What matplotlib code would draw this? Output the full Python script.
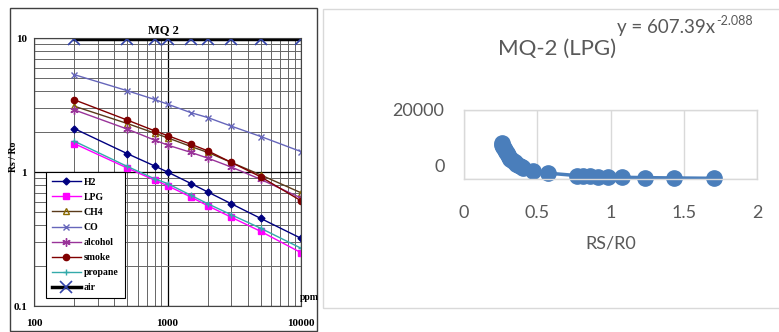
import matplotlib
matplotlib.use("Agg")
import matplotlib.pyplot as plt
from matplotlib.patches import Rectangle
from matplotlib.transforms import ScaledTranslation
import numpy as np

# ---------------- data: left (datasheet curves) ----------------
ppm = [200, 500, 800, 1000, 1500, 2000, 3000, 5000, 10000]
h2 = [2.11, 1.37, 1.11, 1.00, 0.82, 0.71, 0.58, 0.45, 0.32]
lpg = [1.63, 1.07, 0.87, 0.79, 0.65, 0.56, 0.46, 0.36, 0.25]
ch4 = [3.10, 2.30, 1.95, 1.80, 1.55, 1.40, 1.18, 0.95, 0.70]
co = [5.33, 4.04, 3.48, 3.21, 2.77, 2.55, 2.20, 1.84, 1.42]
alcohol = [2.91, 2.09, 1.73, 1.59, 1.40, 1.27, 1.09, 0.88, 0.64]
smoke = [3.46, 2.44, 2.03, 1.87, 1.61, 1.44, 1.18, 0.92, 0.61]
propane = [1.70, 1.10, 0.89, 0.82, 0.67, 0.58, 0.48, 0.38, 0.27]
air = [9.8, 9.8, 9.8, 9.8, 9.8, 9.8, 9.8, 9.8, 9.8]
left_xticks = [100, 1000, 10000]
left_xticklabels = ["100", "1000", "10000"]
left_yticks = [0.1, 1, 10]
left_yticklabels = ["0.1", "1", "10"]

# ---------------- data: right (Excel scatter) ----------------
rs_r0 = [0.257, 0.262, 0.268, 0.274, 0.280, 0.287, 0.294, 0.301, 0.309,
         0.317, 0.326, 0.336, 0.346, 0.358, 0.370, 0.383, 0.395, 0.405,
         0.473, 0.571, 0.769, 0.814, 0.860, 0.917, 0.985, 1.076, 1.236,
         1.434, 1.709]
lpg_ppm = [10400, 9900, 9400, 8900, 8400, 7900, 7400, 6900, 6400,
           5900, 5500, 5100, 4800, 4400, 4100, 3800, 3500, 3300,
           2300, 1700, 1000, 900, 800, 700, 600, 500, 400,
           300, 200]
right_xticks = [0, 0.5, 1, 1.5, 2]
right_xticklabels = ["0", "0.5", "1", "1.5", "2"]
right_yticks = [0, 20000]
right_yticklabels = ["0", "20000"]

W, H = 779, 332
fig = plt.figure(figsize=(W / 100, H / 100), dpi=100)

def px_rect(x0, y0, x1, y1):
    return [x0 / W, 1 - y1 / H, (x1 - x0) / W, (y1 - y0) / H]

# outer frames
fig.patches.append(Rectangle((10 / W, 1 - 331 / H), 307 / W, 323 / H,
                             transform=fig.transFigure, fill=False,
                             edgecolor="#404040", lw=1.0))
fig.patches.append(Rectangle((323 / W, 1 - 308 / H), 460 / W, 299 / H,
                             transform=fig.transFigure, fill=False,
                             edgecolor="#d9d9d9", lw=1.0))

# ---------------- left axes ----------------
serif = ["Liberation Serif", "DejaVu Serif"]
ax = fig.add_axes(px_rect(34, 38, 301, 306))
ax.set_xscale("log")
ax.set_yscale("log")
ax.set_xlim(100, 10000)
ax.set_ylim(0.1, 10)
ax.grid(True, which="major", color="black", lw=0.9)
ax.grid(True, which="minor", color="#666666", lw=0.7)
ax.tick_params(which="both", length=0)
ax.set_xticks(left_xticks)
ax.set_xticklabels(left_xticklabels, family=serif, fontsize=8, fontweight="bold")
ax.set_yticks(left_yticks)
ax.set_yticklabels(left_yticklabels, family=serif, fontsize=8, fontweight="bold")
ax.tick_params(axis="x", pad=9)
ax.tick_params(axis="y", pad=5)
for s in ax.spines.values():
    s.set_color("#444444")
    s.set_linewidth(0.8)

ax.plot(ppm, h2, color="#000080", marker="D", ms=3.5, lw=1.0, label="H2")
ax.plot(ppm, lpg, color="#ff00ff", marker="s", ms=4.5, lw=1.0, label="LPG")
ax.plot(ppm, ch4, color="#5a3a1a", marker="^", ms=4.5, mfc="none",
        mec="#8a6a00", lw=1.0, label="CH4")
ax.plot(ppm, co, color="#6666bb", marker="x", ms=4.5, lw=1.0, label="CO")
ax.plot(ppm, alcohol, color="#993399", marker=(6, 2, 0), ms=6, lw=1.0,
        label="alcohol")
ax.plot(ppm, smoke, color="#800000", marker="o", ms=4.5, lw=1.0, label="smoke")
ax.plot(ppm, propane, color="#33aaaa", marker="+", ms=5, lw=1.0,
        label="propane")
ax.plot(ppm, air, color="black", lw=2.5, marker="x", ms=9, mec="#3344aa",
        mew=1.2, label="air")

leg = ax.legend(loc="upper left", bbox_to_anchor=(0.045, 0.50),
                prop={"family": serif, "size": 7, "weight": "bold"},
                frameon=True, fancybox=False, edgecolor="black",
                framealpha=1, handlelength=3.0, labelspacing=0.62,
                borderpad=0.6, handletextpad=0.3, borderaxespad=0)
leg.get_frame().set_linewidth(0.8)

fig.text(163 / W, 1 - 30 / H, "MQ 2", family=serif, fontsize=9,
         fontweight="bold", ha="center", va="center")
fig.text(13 / W, 1 - 157 / H, "Rs / Ro", family=serif, fontsize=7,
         fontweight="bold", rotation=90, ha="center", va="center")
fig.text(300 / W, 1 - 297 / H, "ppm", family=serif, fontsize=7,
         fontweight="bold", ha="left", va="center")

# ---------------- right axes ----------------
sans = ["Lato", "DejaVu Sans"]
grey = "#595959"
bx = fig.add_axes(px_rect(464, 110, 757, 179))
bx.set_xlim(0, 2)
bx.set_ylim(0, 20000)
bx.set_xticks(right_xticks)
bx.set_xticklabels(right_xticklabels, family=sans, fontsize=13, color=grey)
bx.set_yticks(right_yticks)
bx.set_yticklabels(right_yticklabels, family=sans, fontsize=13, color=grey)
bx.tick_params(length=0)
bx.tick_params(axis="x", pad=18.5)
bx.tick_params(axis="y", pad=14)
bx.grid(True, axis="both", color="#d9d9d9", lw=1)
for name, s in bx.spines.items():
    s.set_color("#d9d9d9")
    s.set_linewidth(1)
bx.set_axisbelow(True)
lab0 = bx.get_yticklabels()[0]
lab0.set_transform(lab0.get_transform() + ScaledTranslation(0, 0.13, fig.dpi_scale_trans))
bx.plot(rs_r0, lpg_ppm, color="#4a7ebb", lw=2.5, marker="o", ms=11,
        clip_on=False)
bx.set_xlabel("RS/R0", family=sans, fontsize=13, color=grey, labelpad=11)

fig.text(557 / W, 1 - 49 / H, "MQ-2 (LPG)", family=sans, fontsize=16,
         color=grey, ha="center", va="center")
eq = fig.text(617 / W, 1 - 27 / H, "y = 607.39x", family=sans, fontsize=13.5,
              color=grey, ha="left", va="center")
renderer = fig.canvas.get_renderer()
bb = eq.get_window_extent(renderer)
fig.text(bb.x1 / (W) + 1 / W, 1 - 21 / H, "-2.088", family=sans, fontsize=9,
         color=grey, ha="left", va="center")

fig.savefig("out.png", dpi=100)
